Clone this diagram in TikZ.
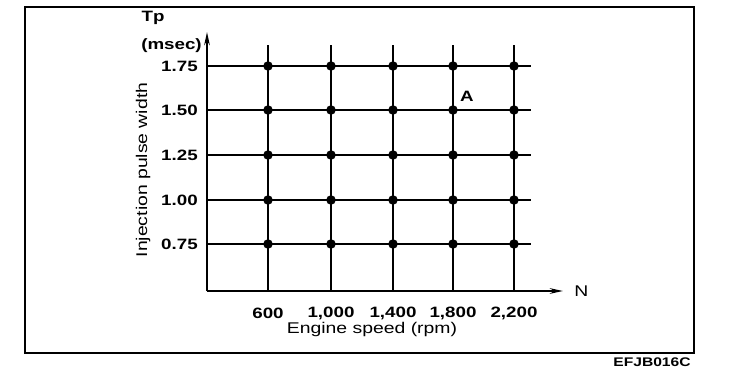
\documentclass[tikz,border=0pt]{standalone}
\usepackage{fontspec}
\setmainfont{Liberation Sans}[FakeStretch=1.25]
\usetikzlibrary{arrows.meta, positioning, calc}

\begin{document}
\begin{tikzpicture}[x=1pt, y=-1pt, >={Stealth[length=13pt,width=5.5pt]}, line width=2.6pt,
  tick/.style={font=\fontsize{15}{17}\selectfont\bfseries, inner sep=0pt},
  lbl/.style={font=\fontsize{15.5}{18}\selectfont, inner sep=0pt},
  knot/.style={circle, fill, inner sep=0pt, minimum size=9.5pt}]
  \useasboundingbox (0,0) rectangle (736,382);
  \draw (25,7) rectangle (694,353);
  % axes
  \coordinate (O) at (207,291);
  \coordinate (ytip) at (207,32);
  \coordinate (xtip) at (563,291);
  \draw[->] (O) -- (ytip);
  \draw[->] (O) -- (xtip);
  \node[lbl, right=10pt of xtip] (N) {N};
  \node[tick] (Tp) at (153,18) {Tp};
  \node[tick, anchor=east] (msec) at (203,46) {(msec)};
  \node[lbl, rotate=90] (ylab) at (143,170) {Injection pulse width};
  \node[lbl] (xlab) at (372,329) {Engine speed (rpm)};
  % grid
  \foreach \v/\x [count=\i] in {600/268, 1{,}000/331, 1{,}400/393, 1{,}800/453, 2{,}200/514} {
    \coordinate (b\i) at (\x,291);
    \coordinate (t\i) at (\x,45);
    \draw (b\i) -- (t\i);
    \node[tick] (n\i) at (\x,313) {\v};
  }
  \foreach \v/\y [count=\j] in {1.75/66, 1.50/110, 1.25/155, 1.00/200, 0.75/244} {
    \coordinate (l\j) at (207,\y);
    \coordinate (r\j) at (531,\y);
    \draw (l\j) -- (r\j);
    \node[tick, anchor=east] (tp\j) at (199,\y) {\v};
    \foreach \x [count=\i] in {268,331,393,453,514}
      \node[knot] (k\i\j) at (\x,\y) {};
  }
  \node[tick] (A) at (467,96) {A};
  \node[tick, font=\fontsize{12.5}{14}\selectfont\bfseries] (code) at (652,362) {EFJB016C};
\end{tikzpicture}
\end{document}
